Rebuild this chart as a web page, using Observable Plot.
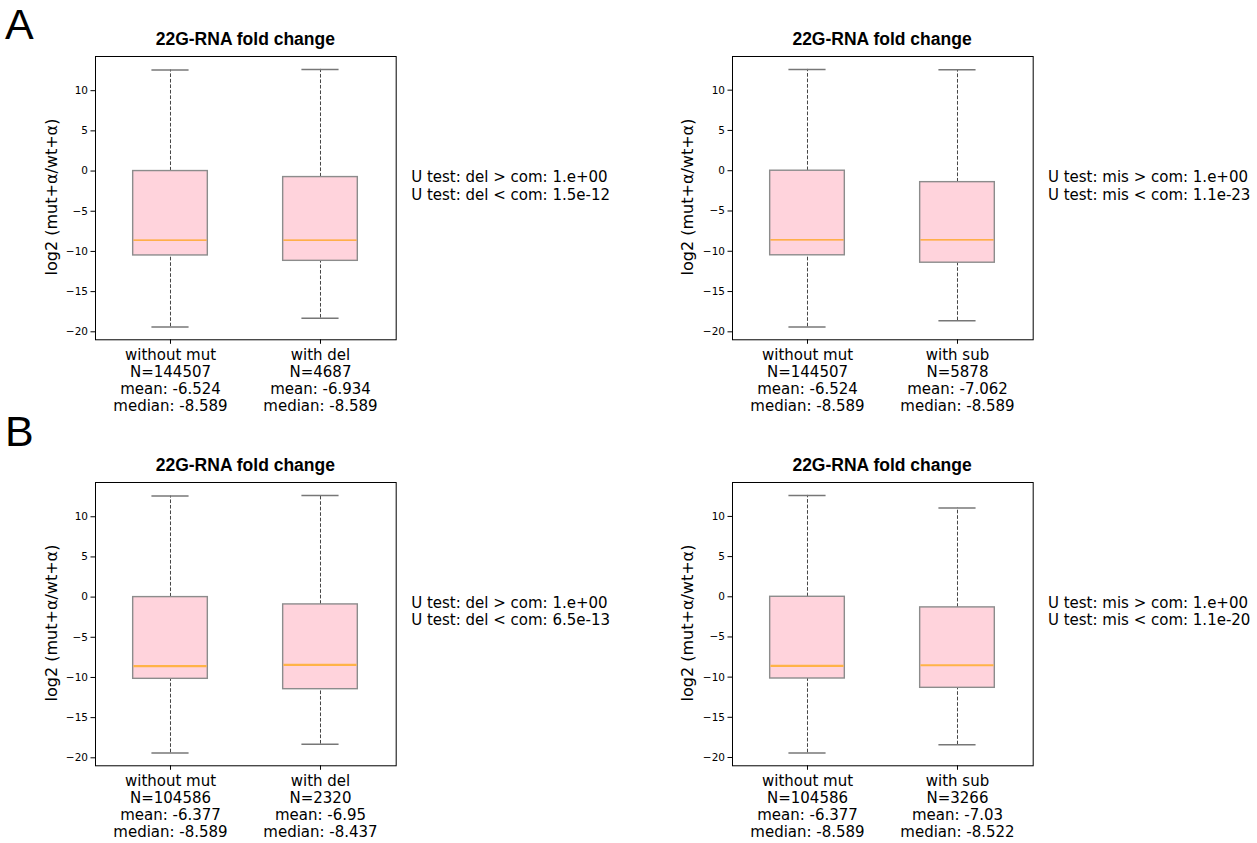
<!DOCTYPE html>
<html>
<head>
<meta charset="utf-8">
<script src="https://cdn.jsdelivr.net/npm/d3@7"></script>
<script src="https://cdn.jsdelivr.net/npm/@observablehq/plot@0.6"></script>
<style>
  html, body { margin: 0; padding: 0; background: #fff; }
  #root { position: relative; width: 1257px; height: 843px; overflow: hidden; background: #fff; }
  .abs { position: absolute; white-space: pre; }
  .title { font-family: "Liberation Sans", Arial, sans-serif; font-weight: bold; font-size: 17.5px; line-height: 1; text-align: center; color: #000; }
  .utest { font-family: "DejaVu Sans", sans-serif; font-size: 15px; line-height: 17.5px; color: #000; }
  .letter { font-family: "Liberation Sans", Arial, sans-serif; font-size: 43px; line-height: 1; color: #000; }
  .ylabel { font-family: "DejaVu Sans", sans-serif; font-size: 16px; line-height: 16px; color: #000; transform: translate(-50%, -50%) rotate(-90deg); }
</style>
</head>
<body>
<div id="root"></div>
<script>
// ---------- data ----------
const panelLetters = ["A", "B"];
const chartTitle = "22G-RNA fold change";
const yAxisLabel = "log2 (mut+α/wt+α)";
const yTicks = [-20, -15, -10, -5, 0, 5, 10];

const groupNames = [
  ["without mut", "with del"],
  ["without mut", "with sub"],
  ["without mut", "with del"],
  ["without mut", "with sub"]
];
const groupN = [
  [144507, 4687],
  [144507, 5878],
  [104586, 2320],
  [104586, 3266]
];
const groupMean = [
  ["-6.524", "-6.934"],
  ["-6.524", "-7.062"],
  ["-6.377", "-6.95"],
  ["-6.377", "-7.03"]
];
const groupMedian = [
  ["-8.589", "-8.589"],
  ["-8.589", "-8.589"],
  ["-8.589", "-8.437"],
  ["-8.589", "-8.522"]
];
const whiskerLow = [
  [-19.39, -18.30],
  [-19.39, -18.64],
  [-19.39, -18.30],
  [-19.43, -18.43]
];
const quartile1 = [
  [-10.50, -11.17],
  [-10.50, -11.42],
  [-10.17, -11.46],
  [-10.17, -11.33]
];
const quartile3 = [
  [0.00, -0.75],
  [0.00, -1.42],
  [0.00, -0.91],
  [0.00, -1.32]
];
const whiskerHigh = [
  [12.58, 12.65],
  [12.58, 12.53],
  [12.58, 12.66],
  [12.62, 11.05]
];
const uTestLines = [
  ["U test: del > com: 1.e+00", "U test: del < com: 1.5e-12"],
  ["U test: mis > com: 1.e+00", "U test: mis < com: 1.1e-23"],
  ["U test: del > com: 1.e+00", "U test: del < com: 6.5e-13"],
  ["U test: mis > com: 1.e+00", "U test: mis < com: 1.1e-20"]
];

// ---------- layout ----------
const root = document.getElementById("root");
const frameW = 300.7, frameH = 283.3;
const mL = 75, mR = 6, mT = 10, mB = 82;
const frameLeft = [95, 731.7, 95, 731.7];
const frameTop = [55.7, 55.7, 481.7, 481.7];
const medianStyle = [
  {stroke: "#ffa31a", w: 1.3},
  {stroke: "#ffa31a", w: 1.3},
  {stroke: "#ffb347", w: 2.2},
  {stroke: "#ffb347", w: 2.2}
];
const uTestBaseline = [183, 183, 608.5, 608.5];

function addDiv(cls, text, left, top, extra = {}) {
  const d = document.createElement("div");
  d.className = "abs " + cls;
  d.textContent = text;
  d.style.left = left + "px";
  d.style.top = top + "px";
  Object.assign(d.style, extra);
  root.appendChild(d);
  return d;
}

// panel letters
addDiv("letter", panelLetters[0], 5, 2.6);
addDiv("letter", panelLetters[1], 5, 410);

for (let p = 0; p < 4; ++p) {
  const rows = groupNames[p].map((name, i) => ({
    name,
    n: groupN[p][i],
    mean: groupMean[p][i],
    medianLabel: groupMedian[p][i],
    median: +groupMedian[p][i],
    lo: whiskerLow[p][i],
    q1: quartile1[p][i],
    q3: quartile3[p][i],
    hi: whiskerHigh[p][i]
  }));
  const dmin = d3.min(rows, d => d.lo), dmax = d3.max(rows, d => d.hi);
  const pad = (dmax - dmin) * 0.05;
  const labelOf = new Map(rows.map(d => [d.name, `${d.name}\nN=${d.n}\nmean: ${d.mean}\nmedian: ${d.medianLabel}`]));
  const bandW = frameW / 2;
  const boxInset = (bandW - 75) / 2;
  const capInset = (bandW - 37.5) / 2;

  const chart = Plot.plot({
    width: mL + frameW + mR,
    height: mT + frameH + mB,
    marginLeft: mL, marginRight: mR, marginTop: mT, marginBottom: mB,
    style: {fontFamily: "DejaVu Sans", background: "transparent", overflow: "visible", color: "#000"},
    x: {type: "band", domain: groupNames[p], padding: 0},
    y: {domain: [dmin - pad, dmax + pad]},
    marks: [
      // whiskers (dashed)
      Plot.ruleX(rows, {x: "name", y1: "q3", y2: "hi", stroke: "#444", strokeWidth: 1, strokeDasharray: "3.7,1.8"}),
      Plot.ruleX(rows, {x: "name", y1: "lo", y2: "q1", stroke: "#444", strokeWidth: 1, strokeDasharray: "3.7,1.8"}),
      // caps
      Plot.tickY(rows, {x: "name", y: "hi", stroke: "#777", strokeWidth: 1.5, insetLeft: capInset, insetRight: capInset}),
      Plot.tickY(rows, {x: "name", y: "lo", stroke: "#777", strokeWidth: 1.5, insetLeft: capInset, insetRight: capInset}),
      // boxes
      Plot.barY(rows, {x: "name", y1: "q1", y2: "q3", fill: "#ffd3dc", stroke: "#8c8c8c", strokeWidth: 1.4, insetLeft: boxInset, insetRight: boxInset}),
      // medians
      Plot.tickY(rows, {x: "name", y: "median", stroke: medianStyle[p].stroke, strokeWidth: medianStyle[p].w, insetLeft: boxInset + 0.7, insetRight: boxInset + 0.7}),
      Plot.frame({stroke: "#000", strokeWidth: 1}),
      Plot.axisY({ticks: yTicks, tickFormat: d => d < 0 ? "\u2212" + Math.abs(d) : String(d), tickSize: 4.5, tickPadding: 3, fontSize: 10.5, label: null}),
      Plot.axisX({tickFormat: d => labelOf.get(d), tickSize: 4.5, tickPadding: 3, fontSize: 15, lineHeight: 1.15, label: null})
    ]
  });
  chart.style.position = "absolute";
  chart.style.left = (frameLeft[p] - mL) + "px";
  chart.style.top = (frameTop[p] - mT) + "px";
  root.appendChild(chart);

  // y-axis label
  addDiv("ylabel", yAxisLabel, frameLeft[p] - 43.3, frameTop[p] + frameH / 2);
  // title
  addDiv("title", chartTitle, frameLeft[p], frameTop[p] - 24.6, {width: frameW + "px"});
  // U test annotation
  addDiv("utest", uTestLines[p].join("\n"), frameLeft[p] + frameW + 15.5, uTestBaseline[p] - 13.9);
}
</script>
</body>
</html>
